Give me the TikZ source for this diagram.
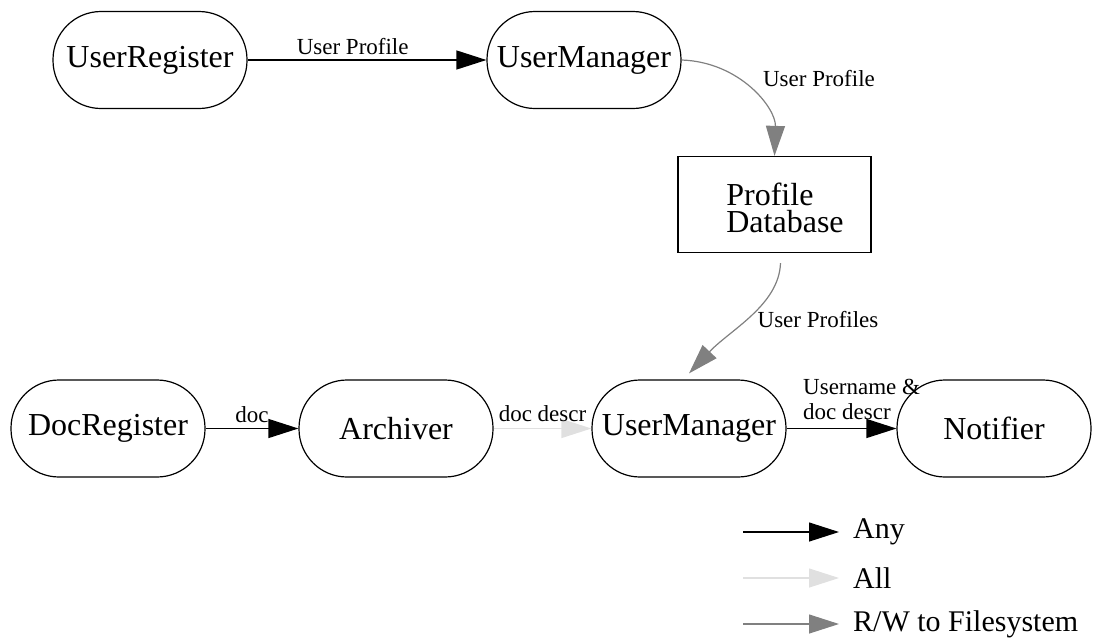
\documentclass[tikz,border=0pt]{standalone}
\usepackage{fontspec}
\setmainfont{Liberation Serif}
\usetikzlibrary{arrows.meta}
\definecolor{allgray}{RGB}{224,224,224}
\definecolor{rwgray}{RGB}{128,128,128}

\begin{document}
\begin{tikzpicture}[x=1pt,y=-1pt,
  proc/.style={draw,rectangle,rounded corners=48pt,minimum width=194pt,minimum height=97pt,
    line width=1.2pt,font=\fontsize{32}{34}\selectfont},
  store/.style={draw,rectangle,minimum width=193pt,minimum height=96pt,line width=1.2pt},
  dbtext/.style={align=left,inner sep=0pt,font=\fontsize{32}{27}\selectfont},
  lbl/.style={inner sep=0pt,align=left,text=black,font=\fontsize{23}{25}\selectfont},
  keytext/.style={anchor=west,inner sep=0pt,font=\fontsize{30}{32}\selectfont},
  any/.style={line width=1.2pt,-{Triangle[length=30pt,width=19pt]}},
  all/.style={any,allgray},
  rw/.style={any,rwgray}]
  \useasboundingbox (0,0) rectangle (1099,643);

  \node[proc] (ureg) at (150,60) {UserRegister};
  \node[proc] (umgr) at (584,60) {UserManager};
  \node[store] (db) at (774.5,204.5) {};
  \node[dbtext] (dbt) at (785,208) {Profile\\Database};
  \node[proc] (docreg) at (108,428.5) {DocRegister};
  \node[proc] (arch) at (396,428.5) {Archiver};
  \node[proc] (umgrb) at (689,428.5) {UserManager};
  \node[proc] (notif) at (994,428.5) {Notifier};

  \draw[any] (ureg) -- node[lbl,pos=0.44,above=5pt] (lprof) {User Profile} (umgr);
  \draw[rw] (umgr.east) .. controls (740,62) and (776,108) .. (db.north);
  \node[lbl] (lprofb) at (819,79) {User Profile};
  \draw[rw] ([xshift=6pt,yshift=-10pt]db.south) .. controls (779,305) and (730,330) .. ([yshift=6pt]umgrb.north);
  \node[lbl] (lprofs) at (818,320) {User Profiles};
  \draw[any] (docreg) -- node[lbl,above=5pt] (ldoc) {doc} (arch);
  \draw[all] (arch) -- node[lbl,above=6pt] (ldescr) {doc descr} (umgrb);
  \draw[any] (umgrb) -- (notif);
  \node[lbl,anchor=south west] (lname) at (803,420) {Username \&\\doc descr};

  % legend
  \coordinate (k1a) at (743,532);
  \coordinate (k1b) at (839,532);
  \coordinate (k2a) at (743,578);
  \coordinate (k2b) at (839,578);
  \coordinate (k3a) at (743,624);
  \coordinate (k3b) at (839,624);
  \draw[any] (k1a) -- (k1b);
  \draw[all] (k2a) -- (k2b);
  \draw[rw] (k3a) -- (k3b);
  \node[keytext] (kany) at (853,532) {Any};
  \node[keytext] (kall) at (853,578) {All};
  \node[keytext] (krw) at (853,624) {R/W to Filesystem};
\end{tikzpicture}
\end{document}
